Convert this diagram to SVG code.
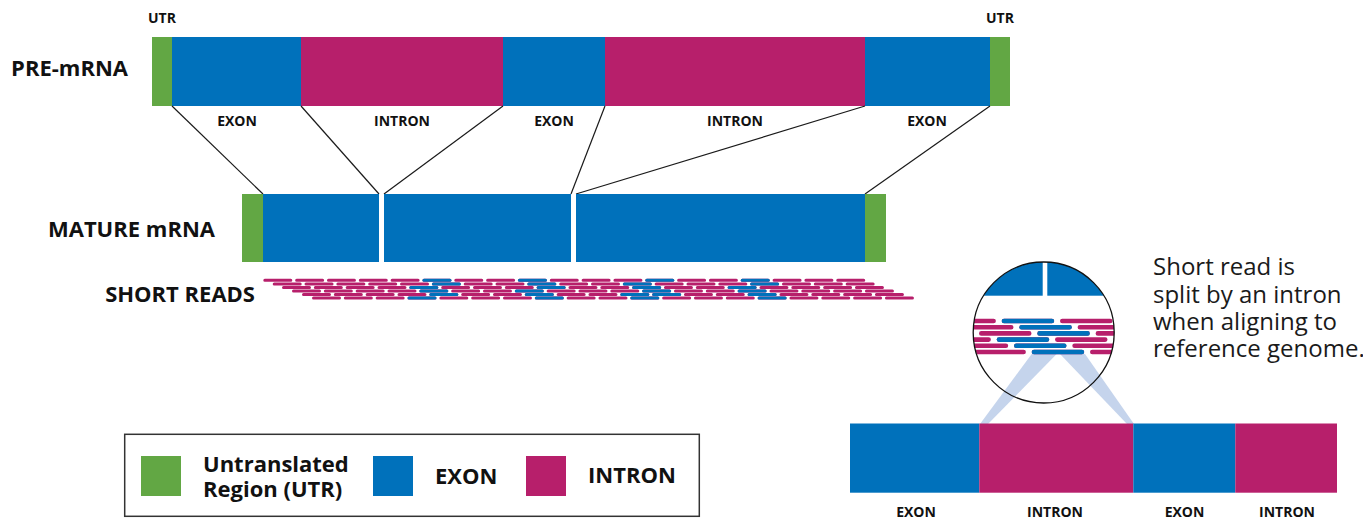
<svg xmlns="http://www.w3.org/2000/svg" width="1363" height="524" viewBox="0 0 1363 524">
  <defs>
    <style>
      .utr { fill: #62a744; }
      .exon { fill: #0071bb; }
      .intron { fill: #b71f6b; }
      .lbl { font-family: "Open Sans", "Noto Sans", "Liberation Sans", sans-serif; font-weight: 700; fill: #111; }
      .sm { font-size: 14px; text-anchor: middle; }
      .utrlbl { font-size: 14px; text-anchor: middle; }
      .big { font-size: 22px; text-anchor: end; }
      .leg { font-size: 22px; }
      .note { font-family: "Open Sans", "Noto Sans", "Liberation Sans", sans-serif; font-size: 24px; fill: #1a1a1a; }
      .conn { stroke: #1a1a1a; stroke-width: 1.2; fill: none; }
      .rm { stroke: #b71f6b; stroke-width: 3; stroke-linecap: round; stroke-dasharray: 26 5.83; fill: none; }
      .rb { stroke: #0071bb; stroke-width: 3; stroke-linecap: round; }
      .zm { stroke: #b71f6b; stroke-width: 4.6; stroke-linecap: round; stroke-dasharray: 47.9 10.4; fill: none; }
      .zb { stroke: #0071bb; stroke-width: 4.6; stroke-linecap: round; }
      .beam { fill: #c5d4ec; }
    </style>
    <clipPath id="lens">
      <circle cx="1043.7" cy="332.5" r="70.5"/>
    </clipPath>
  </defs>
  <rect width="1363" height="524" fill="#fff"/>

  <!-- pre-mRNA -->
  <g id="pre-mrna">
    <rect class="utr" x="152" y="37" width="20" height="69"/>
    <rect class="exon" x="172" y="37" width="129" height="69"/>
    <rect class="intron" x="301" y="37" width="202" height="69"/>
    <rect class="exon" x="503" y="37" width="102" height="69"/>
    <rect class="intron" x="605" y="37" width="260" height="69"/>
    <rect class="exon" x="865" y="37" width="125" height="69"/>
    <rect class="utr" x="990" y="37" width="20" height="69"/>
    <text class="lbl utrlbl" x="162" y="23">UTR</text>
    <text class="lbl utrlbl" x="1000" y="23">UTR</text>
    <text class="lbl big" x="128" y="76">PRE-mRNA</text>
    <text class="lbl sm" x="237" y="126">EXON</text>
    <text class="lbl sm" x="402" y="126">INTRON</text>
    <text class="lbl sm" x="554" y="126">EXON</text>
    <text class="lbl sm" x="735" y="126">INTRON</text>
    <text class="lbl sm" x="927" y="126">EXON</text>
  </g>

  <!-- splicing connectors -->
  <g id="connectors">
    <line class="conn" x1="172" y1="106" x2="263" y2="194"/>
    <line class="conn" x1="301" y1="106" x2="379" y2="194"/>
    <line class="conn" x1="503" y1="106" x2="384" y2="194"/>
    <line class="conn" x1="605" y1="106" x2="571" y2="194"/>
    <line class="conn" x1="865" y1="106" x2="576" y2="194"/>
    <line class="conn" x1="990" y1="106" x2="865" y2="194"/>
  </g>

  <!-- mature mRNA -->
  <g id="mature-mrna">
    <rect class="utr" x="242" y="194" width="21" height="68"/>
    <rect class="exon" x="263" y="194" width="116" height="68"/>
    <rect class="exon" x="384" y="194" width="187" height="68"/>
    <rect class="exon" x="576" y="194" width="289" height="68"/>
    <rect class="utr" x="865" y="194" width="21" height="68"/>
    <text class="lbl big" x="215" y="237">MATURE mRNA</text>
  </g>

  <!-- short reads -->
  <g id="short-reads">
    <text class="lbl big" x="255" y="302">SHORT READS</text>
    <line class="rm" x1="264.8" y1="280.3" x2="863.74" y2="280.3"/>
    <line class="rm" x1="274.2" y1="284" x2="873.14" y2="284"/>
    <line class="rm" x1="283.5" y1="287.5" x2="882.44" y2="287.5"/>
    <line class="rm" x1="293.5" y1="291" x2="892.44" y2="291"/>
    <line class="rm" x1="303.5" y1="294.5" x2="902.44" y2="294.5"/>
    <line class="rm" x1="313.5" y1="298" x2="912.44" y2="298"/>
    <line class="rb" x1="423.95" y1="280.3" x2="449.95" y2="280.3"/>
    <line class="rb" x1="519.44" y1="280.3" x2="545.44" y2="280.3"/>
    <line class="rb" x1="646.76" y1="280.3" x2="672.76" y2="280.3"/>
    <line class="rb" x1="742.25" y1="280.3" x2="768.25" y2="280.3"/>
    <line class="rb" x1="433.35" y1="284" x2="459.35" y2="284"/>
    <line class="rb" x1="528.84" y1="284" x2="554.84" y2="284"/>
    <line class="rb" x1="624.33" y1="284" x2="650.33" y2="284"/>
    <line class="rb" x1="751.65" y1="284" x2="777.65" y2="284"/>
    <line class="rb" x1="410.82" y1="287.5" x2="436.82" y2="287.5"/>
    <line class="rb" x1="538.14" y1="287.5" x2="564.14" y2="287.5"/>
    <line class="rb" x1="633.63" y1="287.5" x2="659.63" y2="287.5"/>
    <line class="rb" x1="729.12" y1="287.5" x2="755.12" y2="287.5"/>
    <line class="rb" x1="420.82" y1="291" x2="446.82" y2="291"/>
    <line class="rb" x1="516.31" y1="291" x2="542.31" y2="291"/>
    <line class="rb" x1="643.63" y1="291" x2="669.63" y2="291"/>
    <line class="rb" x1="739.12" y1="291" x2="765.12" y2="291"/>
    <line class="rb" x1="430.82" y1="294.5" x2="456.82" y2="294.5"/>
    <line class="rb" x1="526.31" y1="294.5" x2="552.31" y2="294.5"/>
    <line class="rb" x1="621.8" y1="294.5" x2="647.8" y2="294.5"/>
    <line class="rb" x1="653.63" y1="294.5" x2="679.63" y2="294.5"/>
    <line class="rb" x1="749.12" y1="294.5" x2="775.12" y2="294.5"/>
    <line class="rb" x1="408.99" y1="298" x2="434.99" y2="298"/>
    <line class="rb" x1="536.31" y1="298" x2="562.31" y2="298"/>
    <line class="rb" x1="631.8" y1="298" x2="657.8" y2="298"/>
    <line class="rb" x1="759.12" y1="298" x2="785.12" y2="298"/>
  </g>

  <!-- magnified split read -->
  <g id="magnifier">
    <circle cx="1043.7" cy="332.5" r="70.5" fill="#fff"/>
    <polygon class="beam" points="1031.7,354 1056.7,354 988,424 980,424"/>
    <polygon class="beam" points="1060,354 1085,354 1134,424 1127,424"/>
    <g clip-path="url(#lens)">
      <rect class="exon" x="960" y="250" width="82.7" height="45.7"/>
      <rect class="exon" x="1047.3" y="250" width="82.7" height="45.7"/>
      <line class="zm" x1="887.4" y1="321" x2="1176.6" y2="321"/>
      <line class="zm" x1="905" y1="327.2" x2="1194" y2="327.2"/>
      <line class="zm" x1="923" y1="333.4" x2="1212" y2="333.4"/>
      <line class="zm" x1="882.4" y1="339.6" x2="1171.6" y2="339.6"/>
      <line class="zm" x1="899.7" y1="345.8" x2="1189" y2="345.8"/>
      <line class="zm" x1="917.4" y1="352" x2="1206.6" y2="352"/>
      <line class="zb" x1="1004" y1="321" x2="1051.9" y2="321"/>
      <line class="zb" x1="1021.6" y1="327.2" x2="1069.5" y2="327.2"/>
      <line class="zb" x1="1039.6" y1="333.4" x2="1087.5" y2="333.4"/>
      <line class="zb" x1="999" y1="339.6" x2="1046.9" y2="339.6"/>
      <line class="zb" x1="1016.3" y1="345.8" x2="1064.2" y2="345.8"/>
      <line class="zb" x1="1034" y1="352" x2="1081.9" y2="352"/>
    </g>
    <circle cx="1043.7" cy="332.5" r="70.5" fill="none" stroke="#111" stroke-width="1.3"/>
  </g>

  <!-- note -->
  <g id="note">
    <text class="note" x="1153" y="275">Short read is</text>
    <text class="note" x="1153" y="302.5">split by an intron</text>
    <text class="note" x="1153" y="330">when aligning to</text>
    <text class="note" x="1153" y="357">reference genome.</text>
  </g>

  <!-- reference genome segment -->
  <g id="genome">
    <rect class="exon" x="850" y="423.5" width="129.3" height="69.2"/>
    <rect class="intron" x="979.3" y="423.5" width="154" height="69.2"/>
    <rect class="exon" x="1133.3" y="423.5" width="102" height="69.2"/>
    <rect class="intron" x="1235.3" y="423.5" width="101.7" height="69.2"/>
    <text class="lbl sm" x="916" y="517">EXON</text>
    <text class="lbl sm" x="1055" y="517">INTRON</text>
    <text class="lbl sm" x="1184.5" y="517">EXON</text>
    <text class="lbl sm" x="1287" y="517">INTRON</text>
  </g>

  <!-- legend -->
  <g id="legend">
    <rect x="124.7" y="434.3" width="574.6" height="82" fill="#fff" stroke="#333" stroke-width="1.5"/>
    <rect class="utr" x="141" y="456" width="40" height="40"/>
    <text class="lbl leg" x="203" y="471.5">Untranslated</text>
    <text class="lbl leg" x="203" y="496.5">Region (UTR)</text>
    <rect class="exon" x="373" y="456" width="40" height="40"/>
    <text class="lbl leg" x="435" y="484">EXON</text>
    <rect class="intron" x="526" y="456" width="40" height="40"/>
    <text class="lbl leg" x="588" y="483">INTRON</text>
  </g>
</svg>
